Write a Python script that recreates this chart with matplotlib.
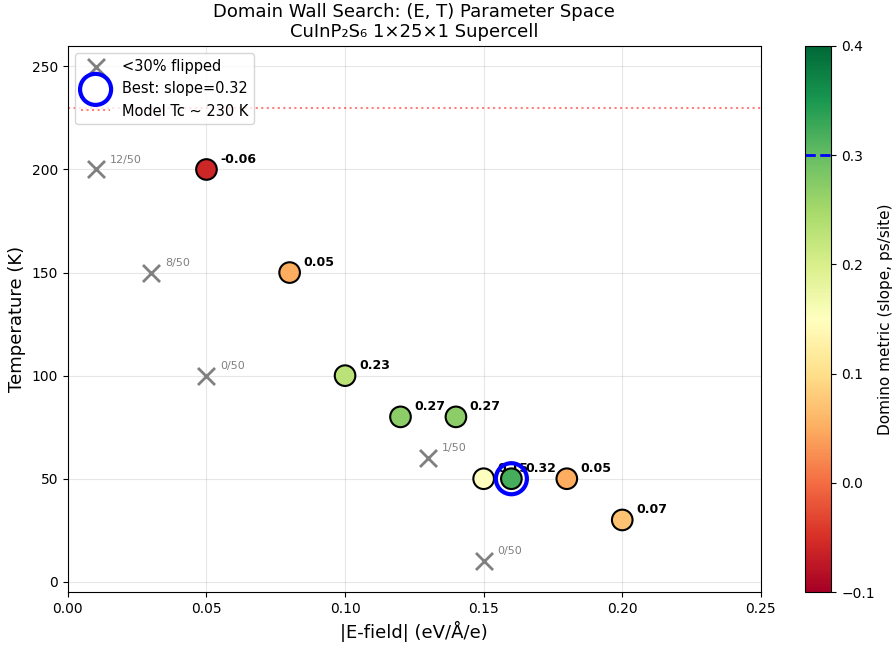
import matplotlib
matplotlib.use('Agg')
import matplotlib.pyplot as plt
import numpy as np

# runs with enough flips: field, temperature, domino slope
e_ok = [0.05, 0.08, 0.10, 0.12, 0.14, 0.15, 0.16, 0.18, 0.20]
t_ok = [200, 150, 100, 80, 80, 50, 50, 50, 30]
slope_ok = [-0.06, 0.05, 0.23, 0.27, 0.27, 0.15, 0.32, 0.05, 0.07]

# runs with <30% flipped
e_low = [0.01, 0.03, 0.05, 0.13, 0.15]
t_low = [200, 150, 100, 60, 10]
flip_low = ['12/50', '8/50', '0/50', '1/50', '0/50']

best_e, best_t, best_slope = 0.16, 50, 0.32
tc_model = 230
target_slope = 0.3

fig = plt.figure(figsize=(8.93, 6.45), dpi=100)
ax = fig.add_axes([0.076, 0.082, 0.776, 0.847])
cax = fig.add_axes([0.901, 0.082, 0.030, 0.847])

ax.scatter(e_low, t_low, marker='x', s=150, c='gray', linewidths=2,
           label='<30% flipped', zorder=3)
for e, t, f in zip(e_low, t_low, flip_low):
    ax.annotate(f, (e, t), xytext=(10, 5), textcoords='offset points',
                fontsize=8, color='gray')

sc = ax.scatter(e_ok, t_ok, c=slope_ok, cmap='RdYlGn', vmin=-0.1, vmax=0.4,
                s=220, edgecolors='black', linewidths=1.5, zorder=4)
for e, t, s in zip(e_ok, t_ok, slope_ok):
    ax.annotate(f'{s:.2f}', (e, t), xytext=(10, 5), textcoords='offset points',
                fontsize=9, fontweight='bold')

ax.scatter([best_e], [best_t], s=500, facecolors='none', edgecolors='blue',
           linewidths=3, zorder=5, label=f'Best: slope={best_slope:.2f}')

ax.axhline(tc_model, color='red', linestyle=':', alpha=0.5,
           label=f'Model Tc ~ {tc_model} K')

ax.set_xlim(0, 0.25)
ax.set_ylim(-5, 260)
ax.set_xlabel('|E-field| (eV/Å/e)', fontsize=13)
ax.set_ylabel('Temperature (K)', fontsize=13)
ax.set_title('Domain Wall Search: (E, T) Parameter Space\nCuInP₂S₆ 1×25×1 Supercell',
             fontsize=13)
ax.grid(True, alpha=0.3)
ax.legend(loc='upper left', fontsize=10.5)

cbar = fig.colorbar(sc, cax=cax)
cbar.set_label('Domino metric (slope, ps/site)', fontsize=11, labelpad=2)
cbar.ax.axhline(target_slope, color='blue', linestyle='--', linewidth=2)

plt.savefig('out.png')
plt.close()
